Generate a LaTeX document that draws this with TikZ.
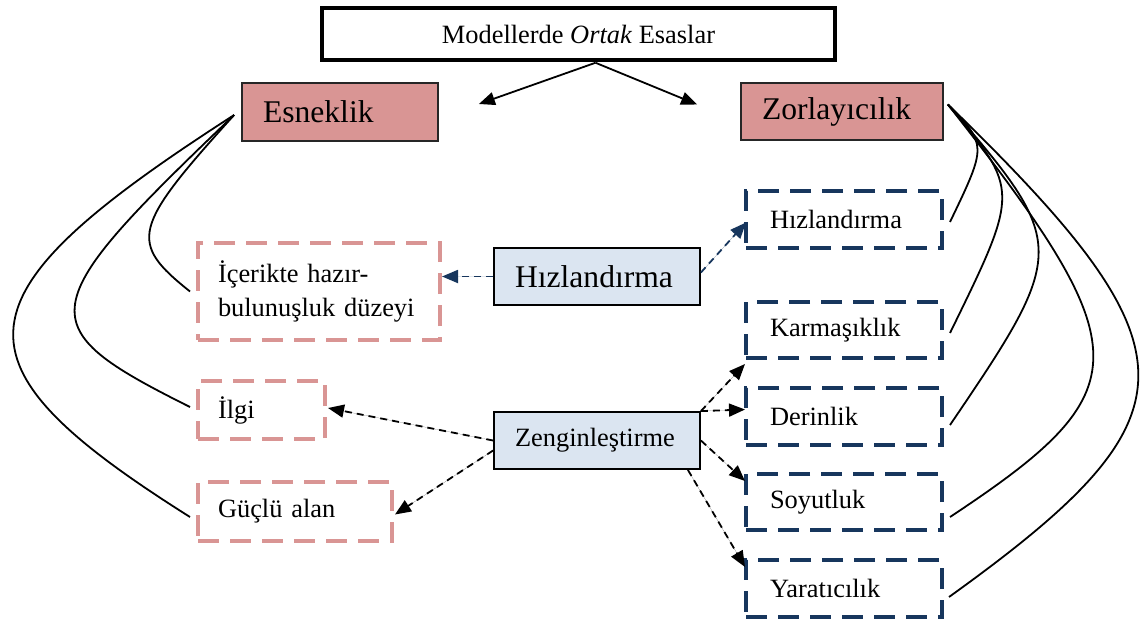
\documentclass[tikz,border=0pt]{standalone}
\usepackage{fontspec}
\setmainfont{Liberation Serif}
\usetikzlibrary{arrows.meta,calc}
\definecolor{rosec}{HTML}{D99594}
\definecolor{skyc}{HTML}{DBE5F1}
\definecolor{navyc}{HTML}{17365D}
\newcommand{\smallsz}{\fontsize{26.4}{34}\selectfont}
\newcommand{\bigsz}{\fontsize{31.6}{38}\selectfont}
\begin{document}
\begin{tikzpicture}[x=1pt,y=-1pt,
  topbox/.style={draw=black,line width=3.5pt,minimum width=513pt,minimum height=52pt,inner sep=0pt,font=\smallsz},
  corebox/.style={draw=black!85,fill=rosec,line width=1.8pt,minimum height=58pt,inner xsep=21pt,inner ysep=0pt,align=left,font=\bigsz},
  midbox/.style={draw=black,fill=skyc,line width=1.8pt,minimum height=57pt,inner xsep=21pt,inner ysep=0pt,align=left},
  rosebox/.style={draw=rosec,line width=4pt,dash pattern=on 21pt off 11pt,minimum height=58pt,inner xsep=20pt,inner ysep=0pt,align=left,font=\smallsz},
  navybox/.style={draw=navyc,line width=4pt,dash pattern=on 21pt off 11pt,minimum width=196pt,minimum height=57pt,inner xsep=24pt,inner ysep=0pt,text width=148pt,align=left,font=\smallsz},
  tip/.style={-{Triangle[length=16pt,width=13pt]}},
  darrow/.style={tip,dash pattern=on 7pt off 5pt,line width=1.8pt},
  link/.style={line width=1.8pt}]
\useasboundingbox (0,0) rectangle (1140,626);

% main heading and the two principles
\node[topbox] (top) at (578.5,34) {Modellerde \textit{Ortak} Esaslar};
\node[corebox,text width=154pt] (esn) at (340,112) {Esneklik};
\node[corebox,text width=160pt,minimum height=57pt] (zor) at (842,111.5) {Zorlayıcılık};

% the two models in the middle
\node[midbox,text width=164pt,font=\bigsz] (hizm) at (597,276.5) {Hızlandırma};
\node[midbox,text width=164pt,font=\smallsz] (zeng) at (597,440.5) {Zenginleştirme};

% flexibility dimensions
\node[rosebox,text width=202pt,minimum height=97pt] (ice) at (319,291.5) {İçerikte hazır-\\bulunuşluk düzeyi};
\node[rosebox,text width=87pt] (ilgi) at (261.5,410) {İlgi};
\node[rosebox,text width=154pt,minimum height=59pt] (guc) at (295,511.5) {Güçlü alan};

% challenge dimensions
\node[navybox] (hizr) at (844,219.5) {Hızlandırma};
\node[navybox,minimum height=56pt] (karm) at (844,330) {Karmaşıklık};
\node[navybox] (der) at (844,416.5) {Derinlik};
\node[navybox,minimum height=56pt] (soy) at (844,502) {Soyutluk};
\node[navybox] (yar) at (844,588.5) {Yaratıcılık};

% heading to principles
\coordinate (topfoot) at ($(top.south)+(17,1)$);
\draw[tip,line width=1.8pt] (topfoot) -- ($(esn.east)+(40,-8)$);
\draw[tip,line width=1.8pt] (topfoot) -- ($(zor.west)+(-43,-7)$);

% acceleration links
\draw[darrow,draw=navyc,fill=navyc] (hizm.west) -- (hizm.west -| ice.east);
\draw[darrow,draw=navyc,fill=navyc] ($(hizm.east)+(0,-4)$) -- ($(hizr.west)+(2,3)$);

% enrichment links
\draw[darrow,fill=black] (zeng.west) -- ($(ilgi.east)+(1,-2)$);
\draw[darrow,fill=black] ($(zeng.west)+(0,10)$) -- ($(guc.east)+(1,3)$);
\draw[darrow,fill=black] (zeng.north east) -- ($(karm.south west)+(1,4)$);
\draw[darrow,fill=black] (zeng.north east) -- ($(der.west)+(1,-7)$);
\draw[darrow,fill=black] (zeng.east) -- ($(soy.north west)+(1,9)$);
\draw[darrow,fill=black] ($(zeng.south east)+(-13,0)$) -- ($(yar.north west)+(1,9)$);

% flexibility curves
\coordinate (esnroot) at ($(esn.west)+(-7,3)$);
\draw[link] (esnroot) .. controls (132,228) and (128,242) .. ($(ice.west)+(-6,0)$);
\draw[link] (esnroot) .. controls (31,309) and (28,326) .. ($(ilgi.west)+(-6,-3)$);
\draw[link] (esnroot) .. controls (-49,297) and (-56,362) .. ($(guc.west)+(-6,5.5)$);

% challenge curves
\coordinate (zorroot) at ($(zor.east)+(4,-7)$);
\draw[link] (zorroot) .. controls (987,145) and (987,145) .. ($(hizr.east)+(6,2.5)$);
\draw[link] (zorroot) .. controls (1020,190) and (1020,190) .. ($(karm.east)+(6,3)$);
\draw[link] (zorroot) .. controls (1068.5,244) and (1068.5,250.6) .. ($(der.east)+(6,8.5)$);
\draw[link] (zorroot) .. controls (1141.4,350.9) and (1141.5,390.4) .. ($(soy.east)+(6,15)$);
\draw[link] (zorroot) .. controls (1201.6,351) and (1201.6,415.4) .. ($(yar.east)+(5,8.5)$);
\end{tikzpicture}
\end{document}
